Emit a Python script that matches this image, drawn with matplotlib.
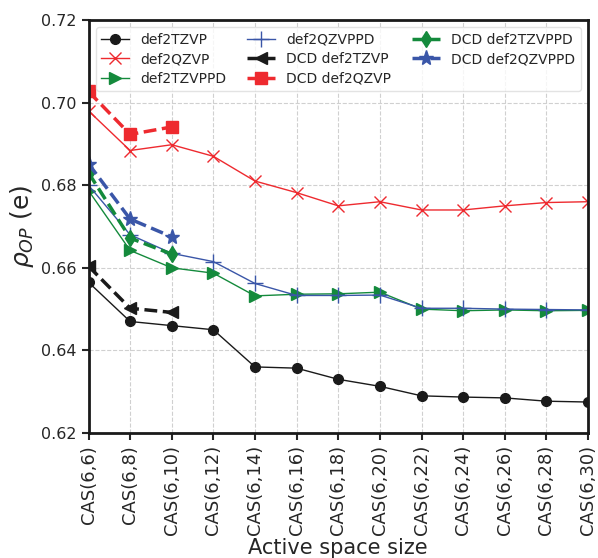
import matplotlib
matplotlib.use("Agg")
import matplotlib.pyplot as plt

labels = ["CAS(6,%d)" % n for n in range(6, 32, 2)]

tzvp = [0.6565, 0.6470, 0.6460, 0.6450, 0.6360, 0.6357, 0.6330, 0.6313, 0.6290, 0.6287, 0.6285, 0.6277, 0.6275]
qzvp = [0.6980, 0.6884, 0.6898, 0.6870, 0.6810, 0.6782, 0.6750, 0.6760, 0.6740, 0.6740, 0.6750, 0.6758, 0.6760]
tzvppd = [0.6787, 0.6642, 0.6600, 0.6587, 0.6532, 0.6536, 0.6537, 0.6541, 0.6500, 0.6496, 0.6498, 0.6496, 0.6497]
qzvppd = [0.6800, 0.6680, 0.6635, 0.6615, 0.6562, 0.6533, 0.6533, 0.6534, 0.6502, 0.6502, 0.6500, 0.6499, 0.6498]

dcd_tzvp = [0.6604, 0.6502, 0.6492]
dcd_qzvp = [0.7027, 0.6923, 0.6941]
dcd_tzvppd = [0.6830, 0.6672, 0.6633]
dcd_qzvppd = [0.6852, 0.6718, 0.6675]

BLACK = "#1a1a1a"
RED = "#ee2a2f"
GREEN = "#148a3c"
BLUE = "#3a56a8"
TEXT = "#262626"

plt.rcParams["text.color"] = TEXT
plt.rcParams["axes.labelcolor"] = TEXT
plt.rcParams["xtick.color"] = TEXT
plt.rcParams["ytick.color"] = TEXT

fig = plt.figure(figsize=(5.98, 5.58), dpi=100)
ax = fig.add_axes([88.5 / 598, 1 - 433 / 558, 499.5 / 598, 413 / 558])

x = list(range(len(labels)))
xd = x[:3]

ax.plot(x, tzvp, color=BLACK, marker="o", ms=7, lw=1, label="def2TZVP")
ax.plot(x, qzvp, color=RED, marker="x", ms=9, mew=1, lw=1, label="def2QZVP")
ax.plot(x, tzvppd, color=GREEN, marker=">", ms=8, lw=1, label="def2TZVPPD")
ax.plot(x, qzvppd, color=BLUE, marker="+", ms=12, mew=1, lw=1, label="def2QZVPPD")
ax.plot(xd, dcd_tzvp, color=BLACK, marker="<", ms=8, lw=2.5, ls="--", label="DCD def2TZVP")
ax.plot(xd, dcd_qzvp, color=RED, marker="s", ms=8, lw=2.5, ls="--", label="DCD def2QZVP")
ax.plot(xd, dcd_tzvppd, color=GREEN, marker="d", ms=8, lw=2.5, ls="--", label="DCD def2TZVPPD")
ax.plot(xd, dcd_qzvppd, color=BLUE, marker="*", ms=11, lw=2.5, ls="--", label="DCD def2QZVPPD")

ax.set_xlim(0, len(labels) - 1)
ax.set_ylim(0.62, 0.72)
ax.set_xticks(x)
ax.set_xticklabels(labels, rotation=90, fontsize=13)
ax.set_yticks([0.62, 0.64, 0.66, 0.68, 0.70, 0.72])
ax.tick_params(axis="y", labelsize=11.5)
ax.tick_params(direction="out", length=5, width=1.5, colors=TEXT)
ax.grid(True, ls="--", color="#d0d0d0", lw=0.8)
for s in ax.spines.values():
    s.set_linewidth(2)
    s.set_color(BLACK)

ax.set_xlabel("Active space size", fontsize=15, labelpad=2)
ax.set_ylabel(r"$\rho_{OP}$ (e)", fontsize=18)

ax.legend(ncol=3, loc="upper center", fontsize=10, handlelength=2.0,
          handletextpad=0.8, columnspacing=1.5, borderaxespad=0.5,
          labelspacing=0.4, borderpad=0.4, edgecolor="#dddddd")

fig.savefig("out.png", dpi=100)
